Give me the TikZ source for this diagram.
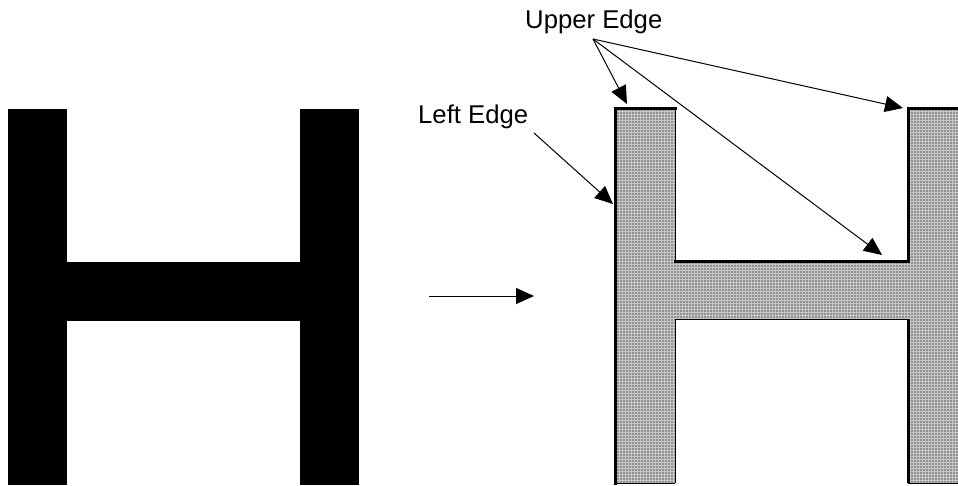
\documentclass[tikz,border=0pt]{standalone}
\usepackage{fontspec}
\setmainfont{Liberation Sans}
\usetikzlibrary{arrows.meta,patterns.meta}
\begin{document}
\begin{tikzpicture}[x=1pt,y=-1pt,
  edgethick/.style={line width=3pt},
  edgethin/.style={line width=1pt},
  pointer/.style={line width=1pt,-{Triangle[length=18pt,width=16pt]}},
  lbl/.style={font=\fontsize{25.7}{30}\selectfont,inner sep=0pt,anchor=base west},
  dotfill/.style={pattern={Dots[distance=3pt,radius=0.9pt]},pattern color=black!65}]
\useasboundingbox (0,0) rectangle (958,485);
% left solid H
\fill[black] (8,109) rectangle (67,485);
\fill[black] (300,109) rectangle (359,485);
\fill[black] (66,262) rectangle (301,321);
% right dotted H
\begin{scope}
\clip (0,0) rectangle (958,485);
\fill[black!22] (615,108) -- (675,108) -- (675,261) -- (908,261) -- (908,108) -- (962,108)
  -- (962,483) -- (908,483) -- (908,319) -- (675,319) -- (675,483) -- (615,483) -- cycle;
\fill[dotfill] (615,108) -- (675,108) -- (675,261) -- (908,261) -- (908,108) -- (962,108)
  -- (962,483) -- (908,483) -- (908,319) -- (675,319) -- (675,483) -- (615,483) -- cycle;
% thin edges
\draw[edgethin] (675,108) -- (675,261);
\draw[edgethin] (675,319) -- (908,319);
\draw[edgethin] (675,319) -- (675,483);
\draw[edgethin] (615,483) -- (675,483);
\draw[edgethin] (908,483) -- (962,483);
% thick edges
\draw[edgethick,line cap=rect] (615,483) -- (615,108) -- (675,108);
\draw[edgethick,line cap=rect] (675,261) -- (908,261) -- (908,108) -- (962,108);
\draw[edgethick] (908,319) -- (908,483);
\end{scope}
% labels
\node[lbl] (upper) at (525,28) {Upper Edge};
\node[lbl] (left) at (418,123) {Left Edge};
% connector coordinates
\coordinate (ueS) at (593,39);
\coordinate (leS) at (534,133);
\coordinate (tA) at (627,104);
\coordinate (tB) at (882,255);
\coordinate (tC) at (903,108);
\coordinate (tL) at (613,204);
\coordinate (mA) at (429,296);
\coordinate (mB) at (534,296);
\draw[pointer] (ueS) -- (tA);
\draw[pointer] (ueS) -- (tB);
\draw[pointer] (ueS) -- (tC);
\draw[pointer] (leS) -- (tL);
\draw[pointer] (mA) -- (mB);
\end{tikzpicture}
\end{document}
